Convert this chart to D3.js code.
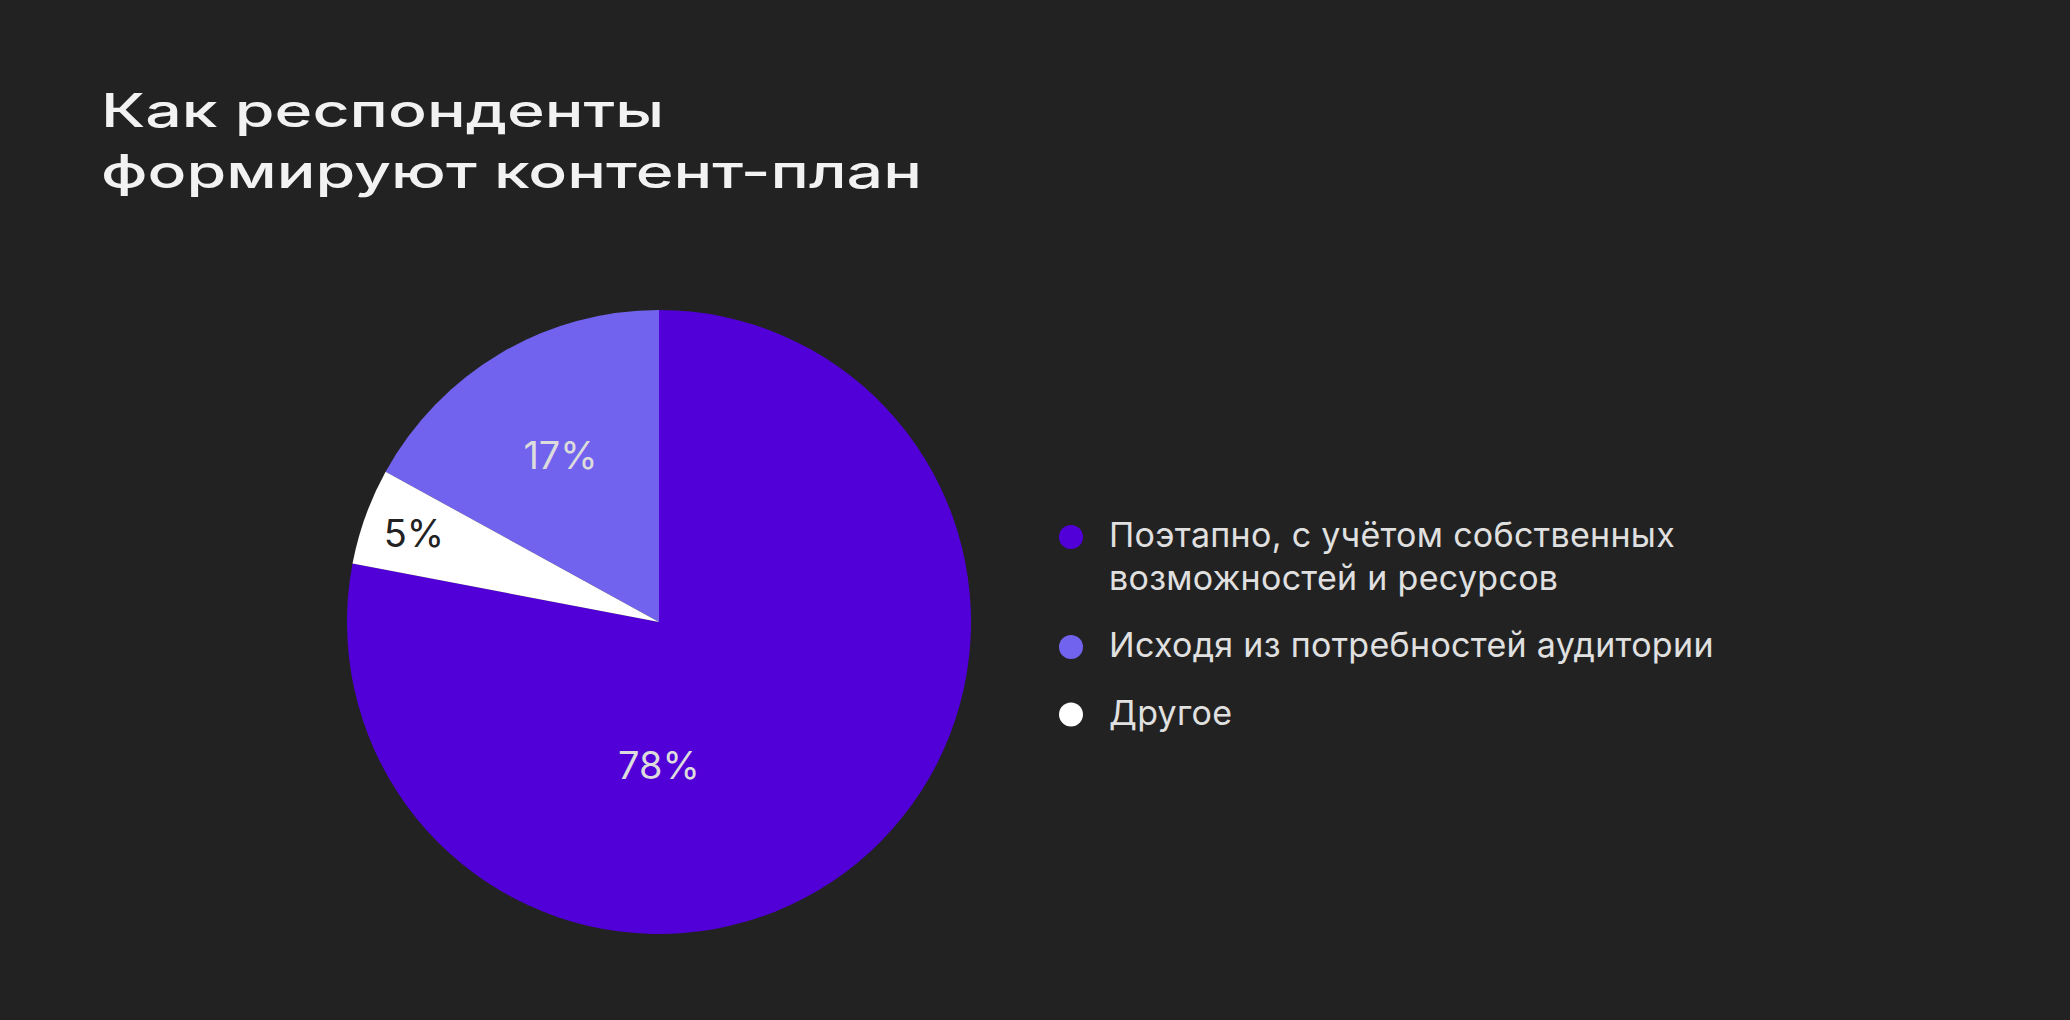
<!DOCTYPE html>
<html>
<head>
<meta charset="utf-8">
<script src="https://cdn.jsdelivr.net/npm/d3@7"></script>
<style>
  html, body { margin: 0; padding: 0; background: #222222; }
  svg { display: block; }
</style>
</head>
<body>
<script>
// data
const categories = ["Поэтапно, с учётом собственных\nвозможностей и ресурсов", "Исходя из потребностей аудитории", "Другое"]
const values = [78, 17, 5]
const colors = ["#5200d8", "#7263ee", "#ffffff"]
const labelColors = ["#dcdcdc", "#dcdcdc", "#222222"]
const pieOrder = [0, 2, 1]   // order of the slices, clockwise from 12 o'clock
const titleLines = ["Как респонденты", "формируют контент-план"]

const W = 2070, H = 1020
const svg = d3.select("body").append("svg")
    .attr("width", W)
    .attr("height", H)

//------------------------------- title ---------------------------------
const stretch = 1.4
const title = svg.append("g").attr("class", "title")
titleLines.forEach((t, i) => {
    const txt = title.append("text")
        .attr("x", 101)
        .attr("y", 127 + i * 61)
        .attr("fill", "#f2f2f2")
        .style("font-family", "Inter, 'Noto Sans', sans-serif")
        .style("font-size", "46px")
        .style("font-weight", 500)
        .text(t)
    const len = txt.node().getComputedTextLength()
    txt.attr("textLength", len * stretch).attr("lengthAdjust", "spacingAndGlyphs")
})

//------------------------------- pie -----------------------------------
const cx = 659, cy = 622, R = 312
const pieData = values.map((v, i) => ({ idx: i, name: categories[i], value: v, color: colors[i], label: labelColors[i] }))

const pie = d3.pie()
    .value(d => d.value)
    .sort((a, b) => pieOrder.indexOf(a.idx) - pieOrder.indexOf(b.idx))
const arc = d3.arc().innerRadius(0).outerRadius(R)

const gPie = svg.append("g").attr("transform", `translate(${cx},${cy})`)
const arcs = pie(pieData)

gPie.selectAll("path")
    .data(arcs)
    .join("path")
    .attr("d", arc)
    .attr("fill", d => d.data.color)

// label radius as part of R
const labelR = [0.46, 0.62, 0.835]
gPie.selectAll("text")
    .data(arcs)
    .join("text")
    .attr("transform", (d, i) => {
        let a = (d.startAngle + d.endAngle) / 2
        if (d.data.value > 50) a = Math.PI
        const r = R * labelR[i]
        return `translate(${Math.sin(a) * r},${-Math.cos(a) * r})`
    })
    .attr("text-anchor", "middle")
    .attr("dy", "0.36em")
    .attr("fill", d => d.data.label)
    .style("font-family", "Inter, 'Noto Sans', sans-serif")
    .style("font-size", "38px")
    .text(d => d.data.value + "%")

//------------------------------- legend --------------------------------
const lineH = 42.5
const itemGap = 25
const legend = svg.append("g").attr("transform", "translate(1071,547)")
let yy = 0
pieData.forEach(d => {
    const lines = d.name.split("\n")
    legend.append("circle")
        .attr("cx", 0)
        .attr("cy", yy - 10)
        .attr("r", 12)
        .attr("fill", d.color)
    const t = legend.append("text")
        .attr("x", 38)
        .attr("y", yy)
        .attr("fill", "#e0e0e0")
        .style("font-family", "Inter, 'Noto Sans', sans-serif")
        .style("font-size", "34px")
        .style("letter-spacing", "0.3px")
    lines.forEach((l, j) => {
        t.append("tspan").attr("x", 38).attr("y", yy + j * lineH).text(l)
    })
    yy += lines.length * lineH + itemGap
})
</script>
</body>
</html>
